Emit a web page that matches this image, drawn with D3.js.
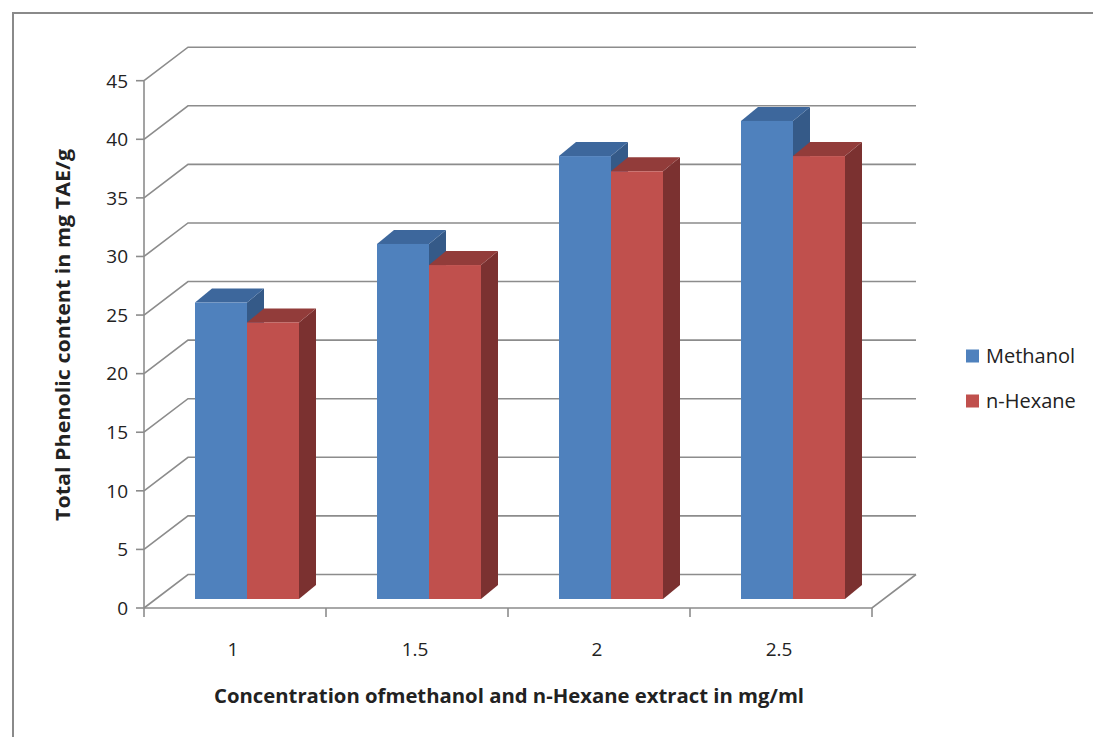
<!DOCTYPE html>
<html>
<head>
<meta charset="utf-8">
<script src="https://cdn.jsdelivr.net/npm/d3@7"></script>
<style>
  html, body { margin: 0; padding: 0; background: #fff; }
  svg { display: block; }
  text { font-family: "Open Sans", "Liberation Sans", sans-serif; fill: #222; }
</style>
</head>
<body>
<svg id="chart" width="1093" height="737"></svg>
<script>
// Extract concentrations (mg/ml) and total phenolic content (mg TAE/g)
const categories = ["1", "1.5", "2", "2.5"];
const seriesNames = ["Methanol", "n-Hexane"];
const methanol = [25.3, 30.3, 37.8, 40.8];
const nHexane = [23.6, 28.5, 36.5, 37.8];
const yTicks = [0, 5, 10, 15, 20, 25, 30, 35, 40, 45];

const seriesValues = [methanol, nHexane];
const palette = {
  "Methanol": { front: "#4f81bd", top: "#3d679c", side: "#355a88" },
  "n-Hexane": { front: "#c0504d", top: "#923c3a", side: "#7b3130" }
};

const svg = d3.select("#chart");
const grid = "#8c8c8c";

// 3D projection: depth offset from the front plane to the back wall
const depth = { dx: 44, dy: -33.5 };
const barShift = { dx: 12, dy: -9 };   // bar front face inside the floor
const barDepth = { dx: 17, dy: -14 };

const x = d3.scaleBand().domain(categories).range([144, 872]);
const xs = d3.scaleBand().domain(seriesNames).range([0, x.bandwidth()])
  .paddingInner(0).paddingOuter(0.75);
const y = d3.scaleLinear().domain([0, 45]).range([608, 80.7]);

// Outer chart frame
svg.append("path")
  .attr("d", "M13,737 L13,13 L1093,13")
  .attr("fill", "none").attr("stroke", "#8a8a8a").attr("stroke-width", 2);

// Back wall gridlines + side-wall diagonals
const gl = svg.append("g").attr("stroke", grid).attr("stroke-width", 1.6).attr("fill", "none");
yTicks.forEach(t => {
  const yf = y(t);
  gl.append("path").attr("d",
    `M${x.range()[0]},${yf} L${x.range()[0] + depth.dx},${yf + depth.dy} L${x.range()[1] + depth.dx},${yf + depth.dy}`);
});
// Floor: front edge (axis) and right edge
gl.append("path").attr("d",
  `M${x.range()[0]},${y(0)} L${x.range()[1]},${y(0)} L${x.range()[1] + depth.dx},${y(0) + depth.dy}`);
// Value axis
gl.append("line").attr("x1", 144).attr("x2", 144).attr("y1", y(0)).attr("y2", y(45));
yTicks.forEach(t => {
  gl.append("line").attr("x1", 136).attr("x2", 144).attr("y1", y(t)).attr("y2", y(t));
});
// Category ticks
const boundaries = categories.map(c => x(c)).concat([x.range()[1]]);
boundaries.forEach(b => {
  gl.append("line").attr("x1", b).attr("x2", b).attr("y1", y(0)).attr("y2", y(0) + 9);
});

// Y tick labels
svg.append("g").selectAll("text").data(yTicks).join("text")
  .attr("x", 128).attr("y", d => y(d)).attr("dy", "0.36em")
  .attr("text-anchor", "end").attr("font-size", 19)
  .text(d => d);

// Category labels
svg.append("g").selectAll("text").data(categories).join("text")
  .attr("x", d => x(d) + x.bandwidth() / 2 - 2).attr("y", 649).attr("dy", "0.36em")
  .attr("text-anchor", "middle").attr("font-size", 19)
  .text(d => d);

// 3D columns
const bars = svg.append("g");
categories.forEach((c, ci) => {
  seriesNames.forEach((s, si) => {
    const v = seriesValues[si][ci];
    const col = palette[s];
    const x0 = x(c) + xs(s) + barShift.dx;
    const x1 = x0 + xs.bandwidth();
    const yb = y(0) + barShift.dy;
    const yt = y(v) + barShift.dy;
    const dx = barDepth.dx, dy = barDepth.dy;
    // side face
    bars.append("path").attr("fill", col.side)
      .attr("d", `M${x1},${yb} L${x1 + dx},${yb + dy} L${x1 + dx},${yt + dy} L${x1},${yt} Z`);
    // top face
    bars.append("path").attr("fill", col.top)
      .attr("d", `M${x0},${yt} L${x0 + dx},${yt + dy} L${x1 + dx},${yt + dy} L${x1},${yt} Z`);
    // front face
    bars.append("rect").attr("fill", col.front)
      .attr("x", x0).attr("y", yt).attr("width", x1 - x0).attr("height", yb - yt);
  });
});

// Axis titles
svg.append("text")
  .attr("x", 509).attr("y", 696).attr("dy", "0.36em")
  .attr("text-anchor", "middle").attr("font-size", 19).attr("font-weight", "bold")
  .attr("textLength", 590).attr("lengthAdjust", "spacingAndGlyphs")
  .text("Concentration ofmethanol and  n-Hexane extract in mg/ml");
svg.append("text")
  .attr("transform", "translate(63,335) rotate(-90)")
  .attr("dy", "0.36em")
  .attr("text-anchor", "middle").attr("font-size", 19).attr("font-weight", "bold")
  .attr("textLength", 372).attr("lengthAdjust", "spacingAndGlyphs")
  .text("Total Phenolic content in mg TAE/g");

// Legend
const legend = svg.append("g").selectAll("g").data(seriesNames).join("g")
  .attr("transform", (d, i) => `translate(966,${356 + i * 45})`);
legend.append("rect").attr("x", 0).attr("y", -6.5).attr("width", 13).attr("height", 13)
  .attr("fill", d => palette[d].front);
legend.append("text").attr("x", 20).attr("y", 0).attr("dy", "0.36em")
  .attr("font-size", 20).text(d => d);
</script>
</body>
</html>
